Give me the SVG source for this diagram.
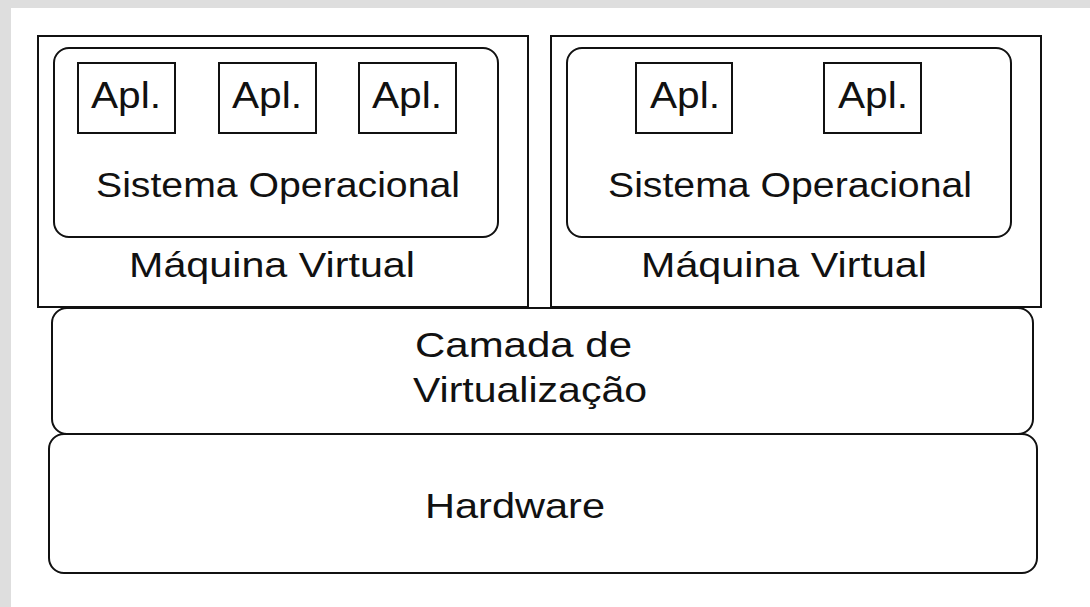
<svg xmlns="http://www.w3.org/2000/svg" width="1090" height="607" viewBox="0 0 1090 607">
  <style>
    .box { fill: none; stroke: #111; stroke-width: 2; }
    .lbl { font-family: "Liberation Sans", Arial, sans-serif; font-size: 35px; fill: #111; }
    .apl { font-family: "Liberation Sans", Arial, sans-serif; font-size: 36px; fill: #111; }
  </style>

  <!-- page frame -->
  <rect x="0" y="0" width="1090" height="607" fill="#dedede"/>
  <rect x="11" y="8" width="1079" height="599" fill="#ffffff"/>

  <!-- virtual machine 1 -->
  <g id="vm1">
    <rect class="box" x="38" y="36" width="490" height="271"/>
    <g id="os1">
      <rect class="box" x="54" y="48" width="444" height="189" rx="15" ry="15"/>
      <text class="lbl" x="96" y="197" textLength="364" lengthAdjust="spacingAndGlyphs">Sistema Operacional</text>
    </g>
    <g id="app1a">
      <rect class="box" x="78" y="63" width="97" height="70"/>
      <text class="apl" x="91" y="108" textLength="70" lengthAdjust="spacingAndGlyphs">Apl.</text>
    </g>
    <g id="app1b">
      <rect class="box" x="219" y="63" width="97" height="70"/>
      <text class="apl" x="232" y="108" textLength="70" lengthAdjust="spacingAndGlyphs">Apl.</text>
    </g>
    <g id="app1c">
      <rect class="box" x="359" y="63" width="97" height="70"/>
      <text class="apl" x="372" y="108" textLength="70" lengthAdjust="spacingAndGlyphs">Apl.</text>
    </g>
    <text class="lbl" x="129" y="277" textLength="286" lengthAdjust="spacingAndGlyphs">Máquina Virtual</text>
  </g>

  <!-- virtual machine 2 -->
  <g id="vm2">
    <rect class="box" x="551" y="36" width="490" height="271"/>
    <g id="os2">
      <rect class="box" x="567" y="48" width="444" height="189" rx="15" ry="15"/>
      <text class="lbl" x="608" y="197" textLength="364" lengthAdjust="spacingAndGlyphs">Sistema Operacional</text>
    </g>
    <g id="app2a">
      <rect class="box" x="636" y="63" width="96" height="70"/>
      <text class="apl" x="650" y="108" textLength="70" lengthAdjust="spacingAndGlyphs">Apl.</text>
    </g>
    <g id="app2b">
      <rect class="box" x="824" y="63" width="97" height="70"/>
      <text class="apl" x="838" y="108" textLength="70" lengthAdjust="spacingAndGlyphs">Apl.</text>
    </g>
    <text class="lbl" x="641" y="277" textLength="286" lengthAdjust="spacingAndGlyphs">Máquina Virtual</text>
  </g>

  <!-- virtualization layer -->
  <g id="hypervisor">
    <rect class="box" x="52" y="308" width="981" height="126" rx="15" ry="15"/>
    <text class="lbl" x="415" y="357" textLength="217" lengthAdjust="spacingAndGlyphs">Camada de</text>
    <text class="lbl" x="413" y="402" textLength="234" lengthAdjust="spacingAndGlyphs">Virtualização</text>
  </g>

  <!-- hardware layer -->
  <g id="hardware">
    <rect class="box" x="49" y="434" width="988" height="139" rx="15" ry="15"/>
    <text class="lbl" x="425" y="518" textLength="180" lengthAdjust="spacingAndGlyphs">Hardware</text>
  </g>

  <!-- no connectors: layers are stacked -->
  <g id="connectors"/>
</svg>
